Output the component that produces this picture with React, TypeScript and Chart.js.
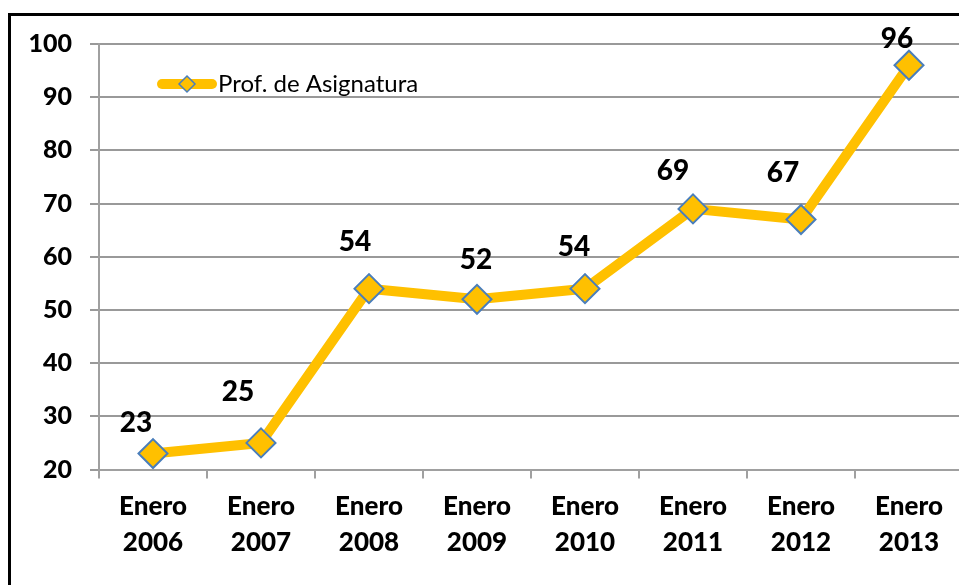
import React, { useEffect, useRef } from "react";
import { Chart, registerables } from "chart.js";

Chart.register(...registerables);

const categories: string[][] = [
  ["Enero", "2006"],
  ["Enero", "2007"],
  ["Enero", "2008"],
  ["Enero", "2009"],
  ["Enero", "2010"],
  ["Enero", "2011"],
  ["Enero", "2012"],
  ["Enero", "2013"],
];
const seriesName = "Prof. de Asignatura";
const values: number[] = [23, 25, 54, 52, 54, 69, 67, 96];
const yTicks: number[] = [20, 30, 40, 50, 60, 70, 80, 90, 100];

// label offsets relative to each point (styling, not data)
const labelOffsets: [number, number][] = [
  [-17, -31],
  [-23, -51],
  [-14, -47],
  [-1, -39],
  [-11, -42],
  [-20, -38],
  [-18, -47],
  [-12, -26],
];

const FONT = "Lato, 'Open Sans', sans-serif";
const LINE_COLOR = "#FFC000";
const MARKER_BORDER = "#4A7EBB";
const CW = 980;
const CH = 600;

const framePlugin = {
  id: "frame",
  beforeDraw(chart: any) {
    const ctx = chart.ctx;
    ctx.save();
    ctx.fillStyle = "#ffffff";
    ctx.fillRect(0, 0, chart.width, chart.height);
    ctx.strokeStyle = "#000000";
    ctx.lineWidth = 3;
    ctx.strokeRect(9.5, 14.5, chart.width + 50, chart.height + 50);
    ctx.restore();
  },
};

const labelsPlugin = {
  id: "valueLabels",
  afterDatasetsDraw(chart: any) {
    const ctx = chart.ctx;
    const meta = chart.getDatasetMeta(0);
    const data = chart.data.datasets[0].data as number[];
    ctx.save();
    ctx.font = `900 28px ${FONT}`;
    ctx.fillStyle = "#000000";
    ctx.textAlign = "center";
    ctx.textBaseline = "middle";
    meta.data.forEach((pt: any, i: number) => {
      const off = labelOffsets[i] || [0, -35];
      ctx.fillText(String(data[i]), pt.x + off[0], pt.y + off[1]);
    });
    ctx.restore();
  },
};

const legendPlugin = {
  id: "customLegend",
  afterDatasetsDraw(chart: any) {
    const ctx = chart.ctx;
    const ds = chart.data.datasets[0];
    const x0 = 162;
    const x1 = 212;
    const y = 84;
    ctx.save();
    ctx.strokeStyle = LINE_COLOR;
    ctx.lineWidth = 10;
    ctx.lineCap = "round";
    ctx.beginPath();
    ctx.moveTo(x0, y);
    ctx.lineTo(x1, y);
    ctx.stroke();
    const cx = (x0 + x1) / 2;
    const r = 8;
    ctx.beginPath();
    ctx.moveTo(cx, y - r);
    ctx.lineTo(cx + r, y);
    ctx.lineTo(cx, y + r);
    ctx.lineTo(cx - r, y);
    ctx.closePath();
    ctx.fillStyle = LINE_COLOR;
    ctx.fill();
    ctx.strokeStyle = MARKER_BORDER;
    ctx.lineWidth = 1.5;
    ctx.stroke();
    ctx.font = `24px ${FONT}`;
    ctx.fillStyle = "#000000";
    ctx.textAlign = "left";
    ctx.textBaseline = "middle";
    ctx.fillText(ds.label, 218, y);
    ctx.restore();
  },
};

export default function App() {
  const ref = useRef<HTMLCanvasElement | null>(null);

  useEffect(() => {
    if (!ref.current) return;
    const chart = new Chart(ref.current, {
      type: "line",
      data: {
        labels: categories,
        datasets: [
          {
            label: seriesName,
            data: values,
            borderColor: LINE_COLOR,
            borderWidth: 10,
            backgroundColor: LINE_COLOR,
            pointStyle: "rectRot",
            pointRadius: 14.5,
            pointHoverRadius: 14.5,
            pointBackgroundColor: LINE_COLOR,
            pointBorderColor: MARKER_BORDER,
            pointBorderWidth: 2,
            tension: 0,
            borderJoinStyle: "round",
          },
        ],
      },
      options: {
        responsive: false,
        animation: false,
        events: [],
        layout: { padding: { left: 0, right: CW - 963, top: 44, bottom: 0 } },
        plugins: {
          legend: { display: false },
          tooltip: { enabled: false },
          title: { display: false },
        },
        scales: {
          x: {
            type: "category",
            offset: true,
            grid: {
              offset: true,
              drawOnChartArea: false,
              drawTicks: true,
              tickLength: 9,
              color: "#A0A0A0",
              lineWidth: 2,
            },
            border: { display: true, color: "#A0A0A0", width: 2 },
            ticks: {
              color: "#000000",
              font: { family: FONT, size: 26, weight: "900", lineHeight: 1.4 },
              padding: 10,
              maxRotation: 0,
              autoSkip: false,
            },
            afterFit(scale: any) {
              scale.height = CH - 469.5;
            },
          },
          y: {
            min: 20,
            max: 100,
            afterBuildTicks(scale: any) {
              scale.ticks = yTicks.map((v) => ({ value: v }));
            },
            grid: {
              color: "#999999",
              lineWidth: 2,
              drawTicks: true,
              tickLength: 9,
            },
            border: { display: true, color: "#A0A0A0", width: 2 },
            ticks: {
              color: "#000000",
              font: { family: FONT, size: 25, weight: "900" },
              padding: 18,
            },
            afterFit(scale: any) {
              scale.width = 99;
            },
          },
        },
      },
      plugins: [framePlugin, labelsPlugin, legendPlugin],
    });
    return () => chart.destroy();
  }, []);

  return (
    <div
      style={{
        position: "fixed",
        left: 0,
        top: 0,
        width: 959,
        height: 585,
        overflow: "hidden",
        background: "#fff",
      }}
    >
      <canvas ref={ref} width={CW} height={CH} style={{ display: "block", width: CW, height: CH }} />
    </div>
  );
}
